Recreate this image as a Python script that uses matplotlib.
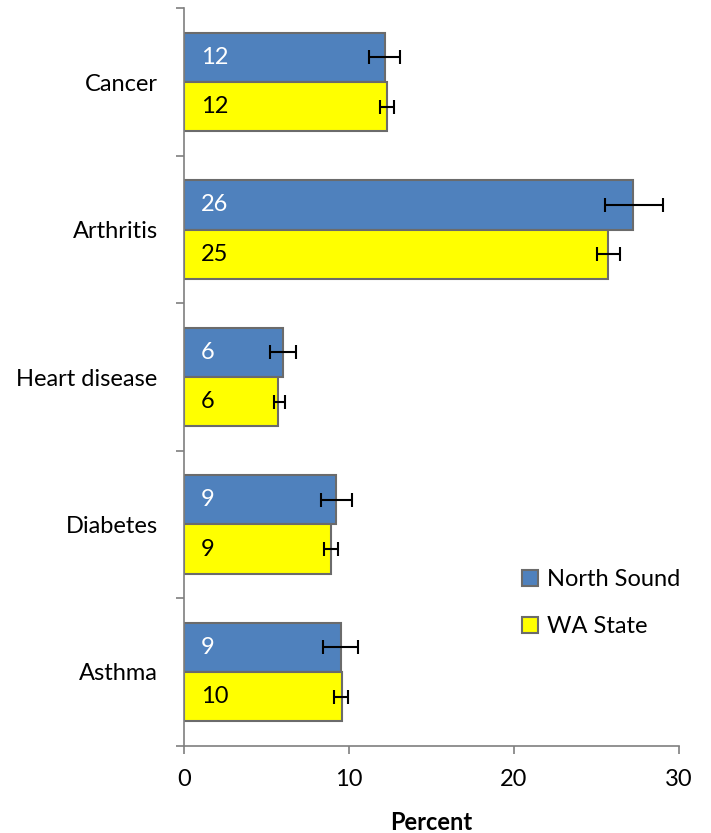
import numpy as np
import matplotlib.pyplot as plt

categories = ['Cancer', 'Arthritis', 'Heart disease', 'Diabetes', 'Asthma']
north_sound = [12.2, 27.2, 6.0, 9.2, 9.5]
ns_low = [11.2, 25.5, 5.2, 8.3, 8.4]
ns_high = [13.1, 29.0, 6.8, 10.2, 10.55]
ns_labels = ['12', '26', '6', '9', '9']
wa_state = [12.3, 25.7, 5.7, 8.9, 9.55]
wa_low = [11.9, 25.0, 5.45, 8.5, 9.1]
wa_high = [12.7, 26.4, 6.1, 9.3, 9.95]
wa_labels = ['12', '25', '6', '9', '10']

plt.rcParams['font.family'] = ['Lato', 'DejaVu Sans']
fs = 17

fig = plt.figure(figsize=(7.11, 8.33), dpi=100)
ax = fig.add_axes([0.2589, 0.1048, 0.955 - 0.2589, 0.990 - 0.1048])

n = len(categories)
y = np.arange(n)[::-1].astype(float)
h = 1 / 3
grey = '#7f7f7f'

ns = np.array(north_sound)
wa = np.array(wa_state)
ax.barh(y + h / 2, ns, height=h, color='#4f81bd', edgecolor='#6b6b6b', linewidth=1.5,
        label='North Sound', zorder=2)
ax.barh(y - h / 2, wa, height=h, color='#ffff00', edgecolor='#6b6b6b', linewidth=1.5,
        label='WA State', zorder=2)

ax.errorbar(ns, y + h / 2, xerr=[ns - np.array(ns_low), np.array(ns_high) - ns],
            fmt='none', ecolor='black', elinewidth=1.5, capsize=5, capthick=1.5, zorder=3)
ax.errorbar(wa, y - h / 2, xerr=[wa - np.array(wa_low), np.array(wa_high) - wa],
            fmt='none', ecolor='black', elinewidth=1.5, capsize=5, capthick=1.5, zorder=3)

for i in range(n):
    ax.annotate(ns_labels[i], (0, y[i] + h / 2), xytext=(12, 0), textcoords='offset points',
                va='center', ha='left', color='white', fontsize=fs)
    ax.annotate(wa_labels[i], (0, y[i] - h / 2), xytext=(12, 0), textcoords='offset points',
                va='center', ha='left', color='black', fontsize=fs)

ax.set_xlim(0, 30)
ax.set_ylim(-0.5, n - 0.5)
ax.set_xticks([0, 10, 20, 30])
ax.tick_params(axis='x', labelsize=fs, length=6, color=grey, width=1.2, pad=11)

ax.set_yticks(y)
ax.set_yticklabels(categories, fontsize=fs)
ax.tick_params(axis='y', which='major', length=0, pad=19)
ax.set_yticks(np.arange(n + 1) - 0.5, minor=True)
ax.tick_params(axis='y', which='minor', length=6, color=grey, width=1.2)

for s in ['top', 'right']:
    ax.spines[s].set_visible(False)
for s in ['left', 'bottom']:
    ax.spines[s].set_color(grey)
    ax.spines[s].set_linewidth(1.2)

ax.set_xlabel('Percent', fontsize=fs, fontweight='bold', labelpad=15)

ax.legend(loc='lower right', bbox_to_anchor=(1.022, 0.134), frameon=False, fontsize=fs,
          handlelength=0.65, handleheight=0.65, handletextpad=0.4, labelspacing=1.1,
          borderaxespad=0)

fig.savefig('out.png', dpi=100)
